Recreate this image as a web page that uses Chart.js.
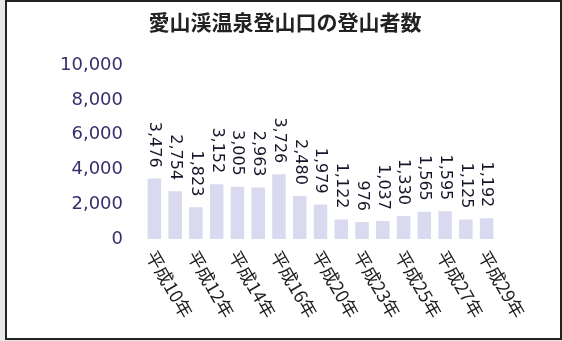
<!DOCTYPE html>
<html>
<head>
<meta charset="utf-8">
<script src="https://cdn.jsdelivr.net/npm/chart.js@4"></script>
<style>
  body { margin: 0; background: #e6e7e9; }
  #wrap { position: absolute; left: 0; top: 0; width: 562px; height: 341px; }
  #paper { position: absolute; left: 5px; top: 0; width: 553px; height: 336px;
           background: #fff; border: 2px solid #222; }
  #chart { position: absolute; left: 0; top: 0; }
</style>
</head>
<body>
<div id="wrap">
  <div id="paper"></div>
  <canvas id="chart" width="562" height="341"></canvas>
</div>
<script>
const chartTitle = '愛山渓温泉登山口の登山者数';
const years = ['平成10年', '平成11年', '平成12年', '平成13年', '平成14年', '平成15年',
  '平成16年', '平成18年', '平成20年', '平成22年', '平成23年', '平成24年',
  '平成25年', '平成26年', '平成27年', '平成28年', '平成29年'];
const climbers = [3476, 2754, 1823, 3152, 3005, 2963, 3726, 2480, 1979,
  1122, 976, 1037, 1330, 1565, 1595, 1125, 1192];
const yTicks = [0, 2000, 4000, 6000, 8000, 10000];

// value labels above each bar, rotated to read top -> bottom
const barLabels = {
  id: 'barLabels',
  afterDatasetsDraw(chart) {
    const ctx = chart.ctx;
    const meta = chart.getDatasetMeta(0);
    ctx.save();
    ctx.font = '16px "DejaVu Sans"';
    ctx.fillStyle = '#16162a';
    meta.data.forEach((bar, i) => {
      ctx.save();
      ctx.translate(bar.x, bar.y - 11);
      ctx.rotate(Math.PI / 2);
      ctx.textAlign = 'right';
      ctx.textBaseline = 'middle';
      ctx.fillText(climbers[i].toLocaleString('en-US'), 0, 0);
      ctx.restore();
    });
    ctx.restore();
  }
};

// slanted category labels, every other one
const slantLabels = {
  id: 'slantLabels',
  afterDraw(chart) {
    const ctx = chart.ctx;
    const xs = chart.scales.x;
    const top = chart.chartArea.bottom + 13;
    ctx.save();
    ctx.font = '18px "Noto Sans CJK JP"';
    ctx.fillStyle = '#1e1e1e';
    for (let i = 0; i < years.length; i += 2) {
      ctx.save();
      ctx.translate(xs.getPixelForValue(i) - 3.5, top);
      ctx.rotate(60 * Math.PI / 180);
      ctx.textAlign = 'left';
      ctx.textBaseline = 'middle';
      ctx.fillText(years[i], 0, 0);
      ctx.restore();
    }
    ctx.restore();
  }
};

new Chart(document.getElementById('chart'), {
  type: 'bar',
  data: {
    labels: years,
    datasets: [{
      data: climbers,
      backgroundColor: '#d9d9ef',
      barPercentage: 0.65,
      categoryPercentage: 1
    }]
  },
  options: {
    responsive: false,
    animation: false,
    layout: { padding: { left: 8, right: 0, top: 0, bottom: 0 } },
    plugins: {
      legend: { display: false },
      tooltip: { enabled: false },
      title: {
        display: true,
        text: chartTitle,
        color: '#222',
        font: { family: '"Noto Sans CJK JP"', size: 21, weight: 'bold' },
        padding: { top: 9, bottom: 31 }
      }
    },
    scales: {
      x: {
        grid: { display: false },
        border: { display: false },
        ticks: { display: false },
        afterFit: (s) => { s.height = 102; }
      },
      y: {
        min: 0,
        max: 10000,
        grid: { display: false, drawTicks: false },
        border: { display: false },
        afterBuildTicks: (s) => { s.ticks = yTicks.map(v => ({ value: v })); },
        ticks: {
          padding: 21,
          color: '#3a2d6b',
          font: { family: '"DejaVu Sans"', size: 18 },
          callback: (v) => v.toLocaleString('en-US')
        },
        afterFit: (s) => { s.width = 136; }
      },
      // empty right-hand axis only keeps the plot narrower than the title row
      yRight: {
        position: 'right',
        grid: { display: false, drawTicks: false },
        border: { display: false },
        ticks: { display: false },
        afterFit: (s) => { s.width = 65; }
      }
    }
  },
  plugins: [barLabels, slantLabels]
});
</script>
</body>
</html>
